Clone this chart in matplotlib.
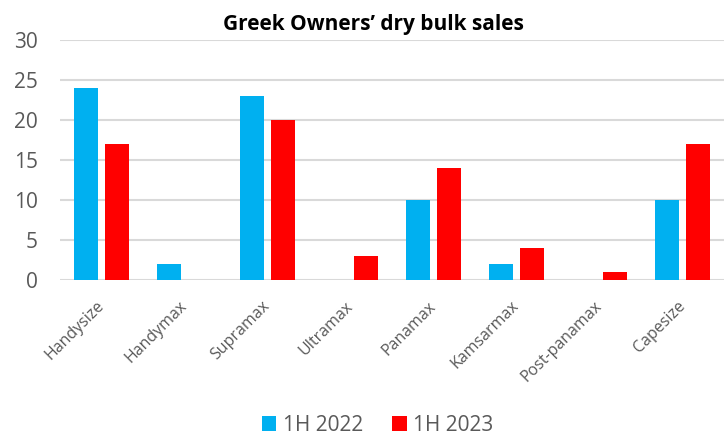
import matplotlib
matplotlib.use("Agg")
import matplotlib.pyplot as plt
import matplotlib.transforms as mtransforms
import numpy as np

categories = ["Handysize", "Handymax", "Supramax", "Ultramax", "Panamax",
              "Kamsarmax", "Post-panamax", "Capesize"]
sales_1h2022 = [24, 2, 23, 0, 10, 2, 0, 10]
sales_1h2023 = [17, 0, 20, 3, 14, 4, 1, 17]
series_labels = ["1H 2022", "1H 2023"]
yticks = [0, 5, 10, 15, 20, 25, 30]

plt.rcParams["font.family"] = ["Open Sans", "DejaVu Sans"]

fig = plt.figure(figsize=(7.26, 4.37), dpi=100)
ax = fig.add_axes([0.0826, 0.359, 0.915, 0.549])

x = np.arange(len(categories))
w = 0.29
off = 0.187
b1 = ax.bar(x - off, sales_1h2022, width=w, color="#00B0F0", label=series_labels[0], zorder=3)
b2 = ax.bar(x + off, sales_1h2023, width=w, color="#FF0000", label=series_labels[1], zorder=3)

ax.set_xlim(-0.5, len(categories) - 0.5)
ax.set_ylim(0, 30)
ax.set_yticks(yticks)
ax.set_yticklabels([str(t) for t in yticks], fontsize=15, color="#595959")
ax.yaxis.grid(True, color="#D9D9D9", linewidth=1.5, zorder=0)
ax.tick_params(axis="y", length=0, pad=16)
ax.tick_params(axis="x", length=0, pad=13)
ax.set_xticks(x)
ax.set_xticklabels(categories, rotation=45, ha="right", rotation_mode="anchor",
                   fontsize=11.5, color="#595959")
shift = mtransforms.ScaledTranslation(-4 / 72, 0, fig.dpi_scale_trans)
for lbl in ax.get_xticklabels():
    lbl.set_transform(lbl.get_transform() + shift)
for s in ax.spines.values():
    s.set_visible(False)
ax.set_axisbelow(True)

fig.text(0.515, 0.945, "Greek Owners\u2019 dry bulk sales", ha="center", va="center",
         fontsize=15, fontweight="bold", color="black")

fig.legend(handles=[b1, b2], labels=series_labels, loc="center", bbox_to_anchor=(0.52, 0.027),
           ncol=2, frameon=False, fontsize=15, handlelength=0.7, handleheight=0.7,
           handletextpad=0.3, columnspacing=1.4, labelcolor="#595959")

fig.savefig("out.png", dpi=100)
